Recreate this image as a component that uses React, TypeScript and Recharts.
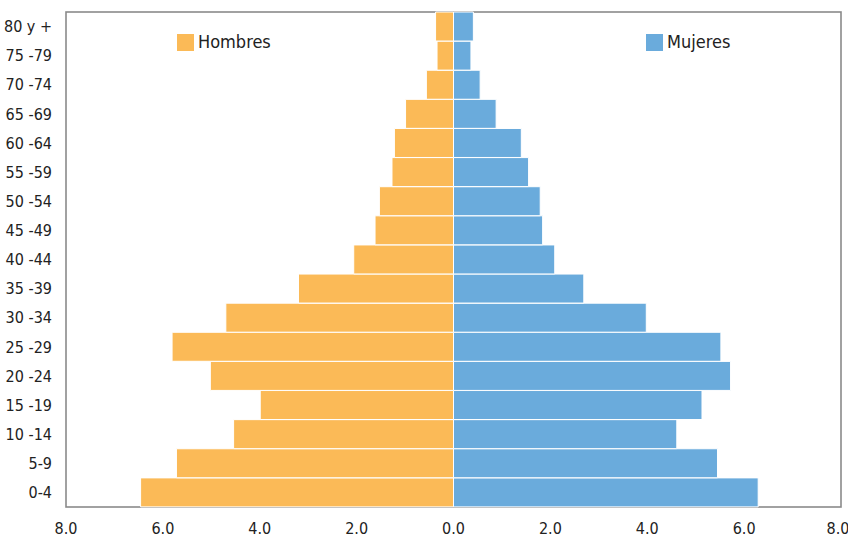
import React from 'react';
import { BarChart, Bar, XAxis, YAxis, usePlotArea } from 'recharts';

const ageGroups = [
  '0-4', '5-9', '10 -14', '15 -19', '20 -24', '25 -29', '30 -34', '35 -39', '40 -44',
  '45 -49', '50 -54', '55 -59', '60 -64', '65 -69', '70 -74', '75 -79', '80 y +',
];
const hombres = [6.46, 5.72, 4.54, 3.99, 5.02, 5.81, 4.7, 3.2, 2.06, 1.62, 1.53, 1.27, 1.22, 0.99, 0.56, 0.34, 0.37];
const mujeres = [6.29, 5.45, 4.61, 5.13, 5.72, 5.52, 3.98, 2.69, 2.09, 1.84, 1.79, 1.55, 1.4, 0.88, 0.55, 0.36, 0.41];
const xTicks = [-8, -6, -4, -2, 0, 2, 4, 6, 8];
const seriesNames = ['Hombres', 'Mujeres'];

const COLOR_H = '#FBBA57';
const COLOR_M = '#6AABDC';
const FONT = '"DejaVu Sans Condensed", "DejaVu Sans", sans-serif';

const data = ageGroups.map((age, i) => ({
  age,
  hombres: -hombres[i],
  mujeres: mujeres[i],
}));

// gray box around the plot area, drawn under the bars
const Frame = () => {
  const area = usePlotArea();
  if (!area) return null;
  return (
    <rect
      x={area.x}
      y={area.y}
      width={area.width}
      height={area.height}
      fill="none"
      stroke="#8a8a8a"
      strokeWidth={1.6}
    />
  );
};

const LegendItem = ({ left, color, label }: { left: number; color: string; label: string }) => (
  <div
    style={{
      position: 'absolute',
      left,
      top: 33,
      height: 18,
      display: 'flex',
      alignItems: 'center',
      fontFamily: FONT,
      fontStretch: 'condensed',
      fontSize: 18,
      color: '#222',
      lineHeight: '18px',
    }}
  >
    <span style={{ display: 'inline-block', width: 17, height: 17, background: color, marginRight: 4 }} />
    <span>{label}</span>
  </div>
);

export default function App() {
  return (
    <div style={{ position: 'absolute', left: 0, top: 0, width: 848, height: 539, background: '#fff' }}>
      <BarChart
        width={848}
        height={539}
        data={data}
        layout="vertical"
        stackOffset="sign"
        barCategoryGap={0}
        margin={{ top: 12, right: 7, bottom: 0, left: 0 }}
      >
        <Frame />
        <XAxis
          type="number"
          domain={[-8, 8]}
          ticks={xTicks}
          tickFormatter={(v: number) => Math.abs(v).toFixed(1)}
          axisLine={false}
          tickLine={false}
          tickSize={0}
          tickMargin={16}
          height={32}
          tick={{ fill: '#222', fontSize: 16, fontFamily: FONT, style: { fontStretch: 'condensed' } }}
        />
        <YAxis
          type="category"
          dataKey="age"
          reversed
          width={66}
          axisLine={false}
          tickLine={false}
          tickSize={0}
          tickMargin={14}
          interval={0}
          tick={{ fill: '#222', fontSize: 16, fontFamily: FONT, style: { fontStretch: 'condensed' } }}
        />
        <Bar dataKey="hombres" name={seriesNames[0]} stackId="a" fill={COLOR_H} stroke="#fff" strokeWidth={1} isAnimationActive={false} />
        <Bar dataKey="mujeres" name={seriesNames[1]} stackId="a" fill={COLOR_M} stroke="#fff" strokeWidth={1} isAnimationActive={false} />
      </BarChart>
      <LegendItem left={177} color={COLOR_H} label={seriesNames[0]} />
      <LegendItem left={646} color={COLOR_M} label={seriesNames[1]} />
    </div>
  );
}
